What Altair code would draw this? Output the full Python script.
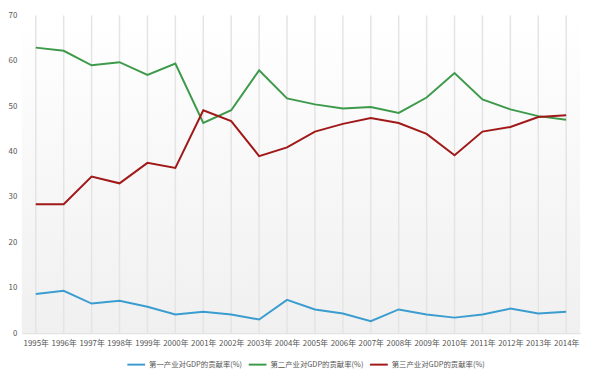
import altair as alt
import pandas as pd

years = [f"{y}年" for y in range(1995, 2015)]
series_names = ["第一产业对GDP的贡献率(%)", "第二产业对GDP的贡献率(%)", "第三产业对GDP的贡献率(%)"]
primary = [8.6, 9.3, 6.5, 7.1, 5.8, 4.1, 4.7, 4.1, 3.0, 7.3, 5.2, 4.3, 2.6, 5.2, 4.1, 3.4, 4.1, 5.4, 4.3, 4.7]
secondary = [62.9, 62.2, 59.0, 59.7, 56.9, 59.4, 46.3, 49.1, 57.9, 51.7, 50.4, 49.5, 49.8, 48.5, 51.9, 57.3, 51.5, 49.3, 47.8, 47.0]
tertiary = [28.4, 28.4, 34.5, 33.0, 37.5, 36.4, 49.1, 46.7, 39.0, 40.9, 44.4, 46.1, 47.4, 46.3, 43.9, 39.2, 44.4, 45.4, 47.6, 48.0]
colors = ["#3b9dcf", "#3d9a4a", "#a01818"]

rows = []
for name, vals in zip(series_names, [primary, secondary, tertiary]):
    for y, v in zip(years, vals):
        rows.append({"year": y, "value": v, "series": name})
df = pd.DataFrame(rows)
years_df = pd.DataFrame({"year": years})

W, H = 566, 322
font = "Noto Sans CJK SC"

bg = alt.Chart(pd.DataFrame({"a": [0]})).mark_rect(
    color=alt.Gradient(
        gradient="linear", x1=0, y1=0, x2=0, y2=1,
        stops=[alt.GradientStop(offset=0, color="#ffffff"),
               alt.GradientStop(offset=1, color="#f0f0f0")],
    )
).encode(x=alt.value(0), x2=alt.value(W), y=alt.value(0), y2=alt.value(H))

xenc = alt.X("year:N", sort=years, title=None,
             scale=alt.Scale(type="point", padding=0.5),
             axis=alt.Axis(labelAngle=0, grid=False, ticks=False, domainColor="#e3e3e3",
                           domainWidth=1.5, labelFontSize=8, labelColor="#555555",
                           labelPadding=7, labelFont=font))

grid = alt.Chart(years_df).mark_rule(color="#e4e4e4", strokeWidth=1.5).encode(
    x=xenc, y=alt.value(0), y2=alt.value(H)
)

lines = alt.Chart(df).mark_line(strokeWidth=2).encode(
    x=xenc,
    y=alt.Y("value:Q", title=None,
            scale=alt.Scale(domain=[0, 70], nice=False),
            axis=alt.Axis(values=[0, 10, 20, 30, 40, 50, 60, 70], grid=False, ticks=False,
                          domain=False, labelFontSize=8, labelColor="#555555",
                          labelPadding=5, labelFont=font)),
    color=alt.Color("series:N", sort=series_names,
                    scale=alt.Scale(domain=series_names, range=colors),
                    legend=alt.Legend(title=None, orient="none", legendX=106, legendY=344,
                                      direction="horizontal", symbolType="stroke",
                                      symbolSize=324, symbolStrokeWidth=2,
                                      labelFontSize=7.5, labelColor="#555555",
                                      labelFont=font, columnPadding=2, labelOffset=3)),
)

chart = alt.layer(bg, grid, lines).properties(
    width=W, height=H,
    autosize=alt.AutoSizeParams(type="none"),
    padding={"left": 14, "top": 5, "right": 12, "bottom": 40},
).configure_view(stroke=None)

chart.save("out.html", embed_options={"renderer": "svg", "actions": False})
